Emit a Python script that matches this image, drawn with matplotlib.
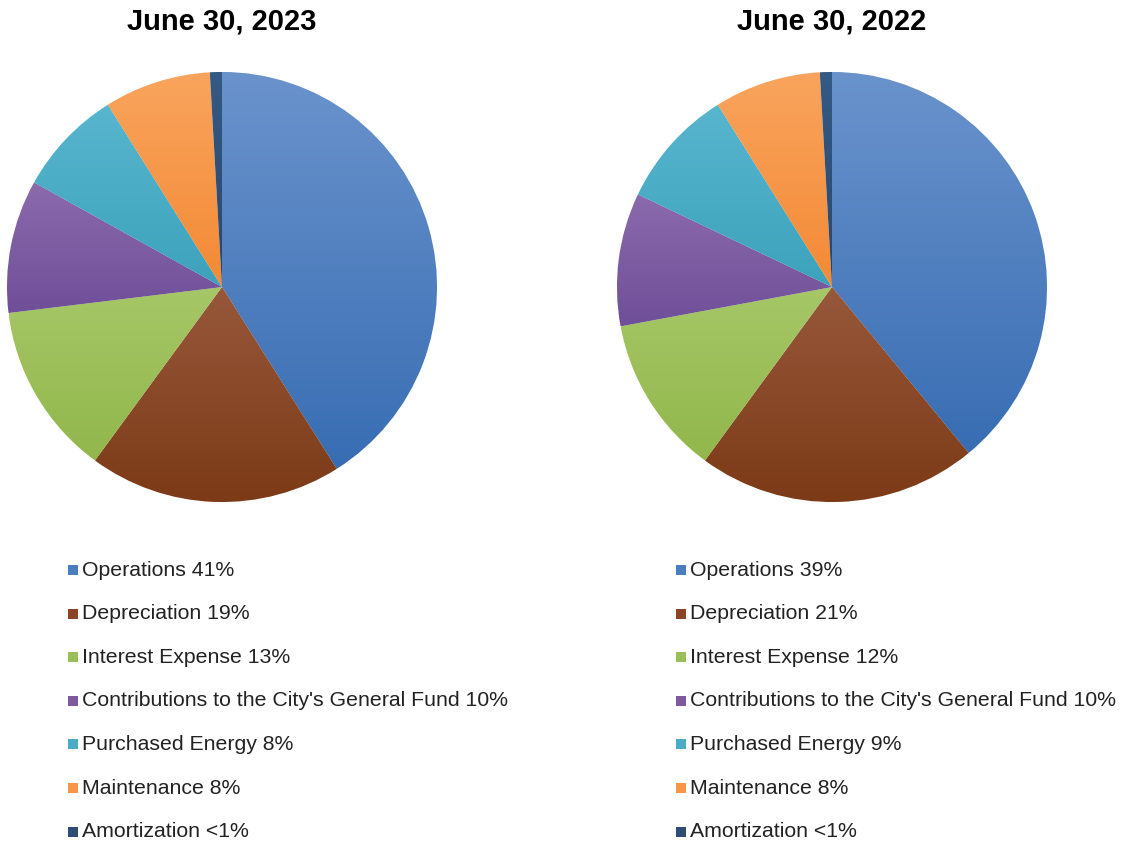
import numpy as np
import matplotlib
matplotlib.use("Agg")
import matplotlib.pyplot as plt
from matplotlib.colors import to_rgb
from matplotlib.patches import Rectangle

plt.rcParams['font.family'] = ['Liberation Sans', 'DejaVu Sans']

categories = ["Operations", "Depreciation", "Interest Expense",
              "Contributions to the City's General Fund", "Purchased Energy",
              "Maintenance", "Amortization"]
titles = ["June 30, 2023", "June 30, 2022"]
values_2023 = [41, 19, 13, 10, 8, 8, 0.9]
values_2022 = [39, 21, 12, 10, 9, 8, 0.9]
pct_labels_2023 = ["41%", "19%", "13%", "10%", "8%", "8%", "<1%"]
pct_labels_2022 = ["39%", "21%", "12%", "10%", "9%", "8%", "<1%"]

# (light top, dark bottom) shading for each slice
colors_light = ["#6a93cc", "#97583b", "#a6c767", "#8b6aad", "#58b6ce", "#f9a45d", "#355a85"]
colors_dark = ["#386db3", "#7c3a16", "#92b74c", "#6f4f98", "#3ca2bc", "#f38a35", "#28476d"]
legend_colors = ["#4a7ebf", "#8a4526", "#9bbf58", "#7d5aa0", "#4aacc6", "#f79646", "#2c4d75"]

W, H = 1123, 846
fig = plt.figure(figsize=(W / 100, H / 100), dpi=100)
fig.patch.set_facecolor("white")

R = 215
centers_x = [222, 832]
center_y = 287


def gradient_wedges(ax, wedges, cl, cd):
    for w, c1, c2 in zip(wedges, cl, cd):
        ext = w.get_path().get_extents()
        n = 256
        a = np.array(to_rgb(c1))
        b = np.array(to_rgb(c2))
        t = np.linspace(0, 1, n)[:, None]
        img = (a * (1 - t) + b * t)[:, None, :]
        im = ax.imshow(img, extent=[ext.x0, ext.x1, ext.y0, ext.y1],
                       origin="upper", aspect="auto", interpolation="bilinear",
                       zorder=w.get_zorder() + 0.1)
        im.set_clip_path(w)


for cx, vals, title in zip(centers_x, [values_2023, values_2022], titles):
    ax = fig.add_axes([(cx - R) / W, (H - center_y - R) / H, 2 * R / W, 2 * R / H])
    wedges, _ = ax.pie(vals, colors=legend_colors, startangle=90, counterclock=False,
                       radius=1, wedgeprops=dict(linewidth=0.6, edgecolor="white"))
    gradient_wedges(ax, wedges, colors_light, colors_dark)
    ax.set_xlim(-1.0, 1.0)
    ax.set_ylim(-1.0, 1.0)
    ax.set_aspect("equal")
    ax.axis("off")

    fig.text(cx / W, 1 - 22 / H, title, ha="center", va="center",
             fontsize=21, fontweight="bold", color="black")

# legends under each pie
legend_x = [68, 676]
row_y0 = 570
row_step = 43.6
sq = 10
for lx, pcts in zip(legend_x, [pct_labels_2023, pct_labels_2022]):
    for i, (cat, p, col) in enumerate(zip(categories, pcts, legend_colors)):
        y = row_y0 + i * row_step
        fig.patches.append(Rectangle((lx / W, (H - y - sq / 2) / H), sq / W, sq / H,
                                     transform=fig.transFigure, facecolor=col,
                                     edgecolor="none"))
        fig.text((lx + sq + 4) / W, 1 - y / H, f"{cat} {p}", ha="left", va="center",
                 fontsize=15.3, color="#222222")

fig.savefig("out.png", dpi=100, facecolor="white")
